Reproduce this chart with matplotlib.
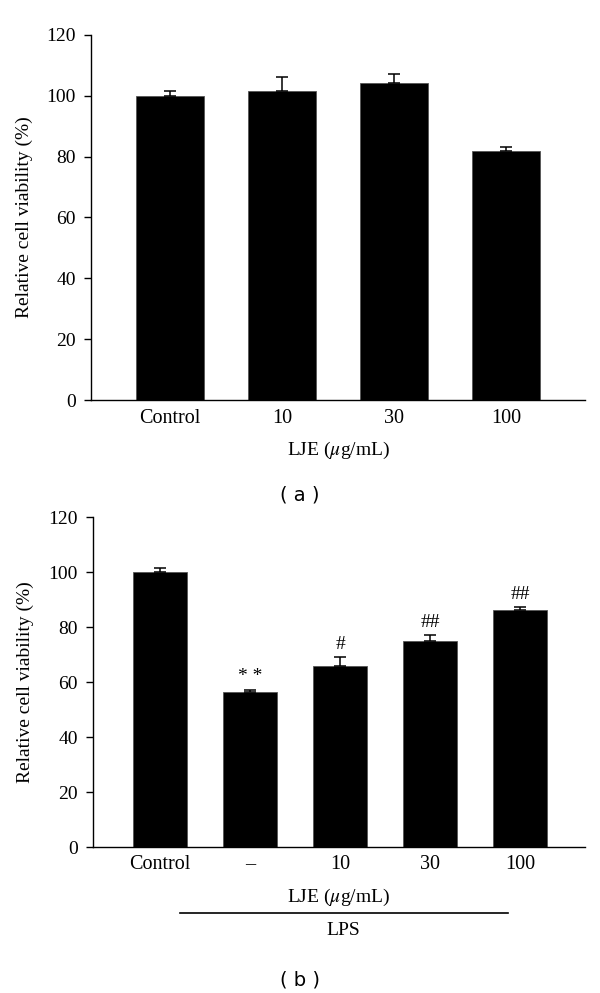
import matplotlib
matplotlib.use("Agg")
import matplotlib.pyplot as plt
import matplotlib.transforms as mtransforms

# Data
cats_a = ["Control", "10", "30", "100"]
vals_a = [100.0, 101.5, 104.0, 81.7]
errs_a = [1.5, 4.5, 3.0, 1.6]

cats_b = ["Control", "\u2013", "10", "30", "100"]
vals_b = [100.0, 56.5, 66.0, 75.0, 86.3]
errs_b = [1.5, 0.8, 3.3, 2.0, 1.2]
marks_b = ["", "* *", "#", "##", "##"]

yticks = [0, 20, 40, 60, 80, 100, 120]

plt.rcParams['font.family'] = ['Liberation Serif', 'DejaVu Serif']
plt.rcParams['mathtext.fontset'] = 'stix'
FS = 14

fig = plt.figure(figsize=(6.0, 9.93), dpi=100)

def style(ax):
    ax.spines['top'].set_visible(False)
    ax.spines['right'].set_visible(False)
    ax.spines['left'].set_linewidth(1.0)
    ax.spines['bottom'].set_linewidth(1.0)
    ax.set_ylim(0, 120)
    ax.set_yticks(yticks)
    ax.tick_params(axis='y', direction='out', length=5, width=1, labelsize=FS, pad=6)
    ax.tick_params(axis='x', length=0, labelsize=14.5, pad=6)
    ax.set_ylabel("Relative cell viability (%)", fontsize=FS, labelpad=10)

# Panel a
axa = fig.add_axes([0.152, 0.597, 0.823, 0.368])
xa = list(range(len(cats_a)))
axa.bar(xa, vals_a, width=0.61, color='black', edgecolor='#555555', linewidth=0.6)
axa.errorbar(xa, vals_a, yerr=[[0]*len(errs_a), errs_a], fmt='none', ecolor='black',
             elinewidth=1.1, capsize=4.5, capthick=1.1)
axa.set_xlim(-0.705, 3.705)
axa.set_xticks(xa)
axa.set_xticklabels(cats_a)
style(axa)
axa.set_xlabel("LJE ($\\mu$g/mL)", fontsize=FS, labelpad=9)
fig.text(0.5, 1 - 495/993, "( a )", ha='center', va='center', fontsize=14, family='DejaVu Sans')

# Panel b
axb = fig.add_axes([0.155, 0.147, 0.82, 0.332])
xb = list(range(len(cats_b)))
axb.bar(xb, vals_b, width=0.6, color='black', edgecolor='#555555', linewidth=0.6)
axb.errorbar(xb, vals_b, yerr=[[0]*len(errs_b), errs_b], fmt='none', ecolor='black',
             elinewidth=1.1, capsize=4, capthick=1.1)
for x, v, e, m in zip(xb, vals_b, errs_b, marks_b):
    if m:
        axb.text(x, v + e + 1.5, m, ha='center', va='bottom', fontsize=14)
axb.set_xlim(-0.744, 4.72)
axb.set_xticks(xb)
axb.set_xticklabels(cats_b)
style(axb)
axb.set_xlabel("LJE ($\\mu$g/mL)", fontsize=FS, labelpad=9)
trans = mtransforms.blended_transform_factory(axb.transData, axb.transAxes)
axb.plot([0.22, 3.86], [-0.2, -0.2], color='black', lw=1.2, transform=trans, clip_on=False)
axb.text(2.04, -0.252, "LPS", ha='center', va='center', fontsize=FS, transform=trans)
fig.text(0.5, 1 - 980/993, "( b )", ha='center', va='center', fontsize=14, family='DejaVu Sans')

fig.savefig("out.png", dpi=100)
